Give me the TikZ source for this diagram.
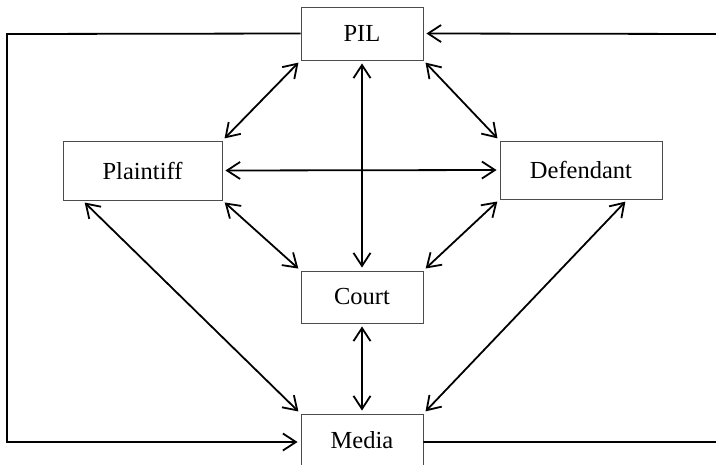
\documentclass[tikz,border=0pt]{standalone}
\usepackage{fontspec}
\setmainfont{Liberation Serif}
\usetikzlibrary{arrows.meta,calc}
\begin{document}
\begin{tikzpicture}[x=1pt,y=-1pt,
  box/.style={draw=black!70,line width=0.9pt,fill=white,inner sep=0pt,
    font=\fontsize{24.5}{28}\selectfont},
  link/.style={line width=1.8pt,shorten <=3pt,shorten >=3pt,
    {Straight Barb[length=13pt,width=17pt,line width=1.8pt]}-{Straight Barb[length=13pt,width=17pt,line width=1.8pt]}},
  feed/.style={line width=1.8pt,-{Straight Barb[length=13pt,width=17pt,line width=1.8pt]},shorten >=3pt}]
\useasboundingbox (0,0) rectangle (716,464);
\clip (0,0) rectangle (716,464);
\node[box,minimum width=122pt,minimum height=53pt] (PIL) at (362,33.5) {PIL};
\node[box,minimum width=159pt,minimum height=59pt] (Plaintiff) at (142.5,170.5) {Plaintiff};
\node[box,minimum width=162pt,minimum height=58pt] (Defendant) at (581,170) {Defendant};
\node[box,minimum width=122pt,minimum height=52pt] (Court) at (362,297) {Court};
\node[box,minimum width=122pt,minimum height=52pt] (Media) at (362,440) {Media};
\coordinate (TL) at (7,34);
\coordinate (BL) at (7,442);
\coordinate (TR) at (719,34);
\coordinate (BR) at (719,442);
\draw[link] (Plaintiff.north east) -- (PIL.south west);
\draw[link] (PIL.south east) -- (Defendant.north west);
\draw[link] (PIL.south) -- (Court.north);
\draw[link] (Plaintiff.east) -- (Defendant.west);
\draw[link] (Plaintiff.south east) -- (Court.north west);
\draw[link] (Defendant.south west) -- (Court.north east);
\draw[link] (Court.south) -- (Media.north);
\draw[link] ($(Plaintiff.south west)+(20,0)$) -- (Media.north west);
\draw[link] ($(Defendant.south east)+(-35,0)$) -- (Media.north east);
\draw[feed] (PIL.west) -- (TL) -- (BL) -- (Media.west |- BL);
\draw[feed] (Media.east |- BR) -- (BR) -- (TR) -- (PIL.east);
\end{tikzpicture}
\end{document}
